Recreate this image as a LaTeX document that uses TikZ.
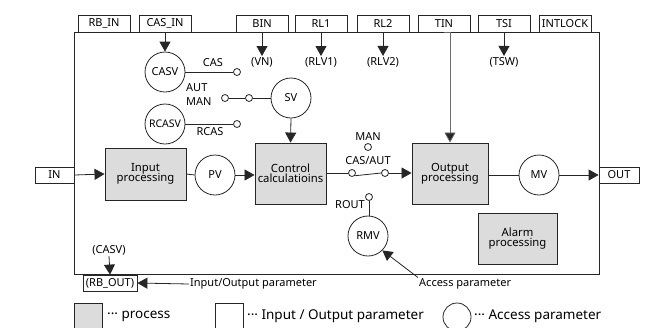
\documentclass[tikz,border=0pt]{standalone}
\usepackage{fontspec}
\setmainfont{Noto Sans}
\usepackage{tikz}
\usetikzlibrary{arrows.meta,positioning,shapes,calc}
\definecolor{ink}{HTML}{262626}
\definecolor{inkgray}{HTML}{6A6A6A}
\definecolor{procgray}{HTML}{DCDCDC}
\tikzset{
  proc/.style={draw=ink,fill=procgray,line width=0.9pt,align=center,
               inner sep=0pt,font=\fontsize{11.3}{12}\selectfont},
  iobox/.style={draw=ink,fill=white,line width=0.8pt,inner sep=0pt,
                minimum width=52pt,minimum height=17pt,
                font=\fontsize{11}{12}\selectfont},
  accpar/.style={circle,draw=ink,fill=white,line width=0.8pt,inner sep=0pt,
                 minimum size=40pt,font=\fontsize{11}{12}\selectfont},
  swpt/.style={circle,draw=ink,fill=white,line width=0.8pt,inner sep=0pt,
               minimum size=7pt},
  lbl/.style={inner sep=1pt,font=\fontsize{11}{12}\selectfont},
  leg/.style={inner sep=0pt,anchor=west,font=\fontsize{13.5}{14}\selectfont},
  wire/.style={line width=0.8pt,draw=ink},
  arr/.style={-{Triangle[length=10pt,width=11pt]},line width=0.8pt,draw=ink},
  grayarr/.style={-{Triangle[length=10pt,width=11pt,fill=ink]},
                  line width=0.8pt,draw=inkgray}
}
\begin{document}
\begin{tikzpicture}[x=1pt,y=-1pt]
    \path[use as bounding box] (0,0) rectangle (658,327);

    % function block frame
    \draw[wire] (74,32) rectangle (599,274);

    % top parameters
    \node[iobox] (rbin) at (104,23.5) {RB\_IN};
    \node[iobox] (casin) at (165,23.5) {CAS\_IN};
    \node[iobox] (bin) at (262,23.5) {BIN};
    \node[iobox] (rlone) at (321,23.5) {RL1};
    \node[iobox] (rltwo) at (383,23.5) {RL2};
    \node[iobox] (tin) at (444,23.5) {TIN};
    \node[iobox] (tsi) at (504,23.5) {TSI};
    \node[iobox] (intlock) at (565,23.5) {INTLOCK};

    \node[lbl] (vn) at (262,62) {(VN)};
    \node[lbl] (rlvone) at (321,62) {(RLV1)};
    \node[lbl] (rlvtwo) at (383,62) {(RLV2)};
    \node[lbl] (tsw) at (504,62) {(TSW)};
    \draw[arr] (bin.south) -- (vn.north);
    \draw[arr] (rlone.south) -- (rlvone.north);
    \draw[arr] (rltwo.south) -- (rlvtwo.north);
    \draw[arr] (tsi.south) -- (tsw.north);

    % setpoint selection
    \node[accpar] (casv) at (165,72) {CASV};
    \node[accpar,font=\fontsize{10.5}{11}\selectfont] (rcasv) at (165,124) {RCASV};
    \node[swpt] (swcas) at (237,72) {};
    \node[swpt] (swrcas) at (237,124) {};
    \node[swpt] (swman) at (225,98) {};
    \node[swpt] (swsv) at (249,98) {};
    \node[accpar] (sv) at (291,98) {SV};
    \node[lbl] (lcas) at (213,63) {CAS};
    \node[lbl,anchor=west] (laut) at (185,88) {AUT};
    \node[lbl,anchor=west] (lman) at (185,102) {MAN};
    \node[lbl] (lrcas) at (210,132) {RCAS};
    \draw[arr] (casin.south) -- (casv.north);
    \draw[wire] (casv.east) -- (swcas.west);
    \draw[wire] (rcasv.east) -- (swrcas.west);
    \draw[wire] (swman.east) -- (swsv.west);
    \draw[wire] (swsv.east) -- (sv.west);

    % main signal path
    \node[iobox,minimum width=39pt,minimum height=16pt] (in) at (54.5,175) {IN};
    \node[proc,minimum width=81pt,minimum height=52pt] (inproc) at (145.5,174)
      {Input\\[-2pt]processing};
    \node[accpar] (pv) at (215,175) {PV};
    \node[proc,minimum width=71pt,minimum height=61pt] (ctrl) at (290.5,173.5)
      {Control\\[-2pt]calculatioins};
    \node[swpt] (swl) at (352,173) {};
    \node[swpt] (swr) at (385,173) {};
    \node[swpt] (swmode) at (368,147) {};
    \node[lbl] (lman2) at (368,137) {MAN};
    \node[lbl] (lcasaut) at (368,161) {CAS/AUT};
    \node[proc,minimum width=76pt,minimum height=61pt] (outproc) at (450,173.5)
      {Output\\[-2pt]processing};
    \node[accpar] (mv) at (539,175) {MV};
    \node[iobox,minimum width=40pt,minimum height=16pt] (out) at (619,175) {OUT};
    \draw[arr] (in.east) -- (inproc.west);
    \draw[wire] (inproc.east) -- (pv.west);
    \draw[arr] (pv.east) -- (ctrl.west |- pv.east);
    \draw[wire] (ctrl.east |- swl.west) -- (swl.west);
    \draw[wire] (swl.south east) -- (swr.west);
    \draw[arr] (swr.east) -- (outproc.west |- swr.east);
    \draw[wire] (outproc.east |- mv.west) -- (mv.west);
    \draw[arr] (mv.east) -- (out.west);
    \draw[arr] (sv.south) -- (ctrl.north);
    \draw[grayarr] (tin.south) -- (outproc.north |- tin.south)
      -- (outproc.north);

    % remote output
    \node[swpt] (swrout) at (369,197) {};
    \node[lbl,anchor=east] (lrout) at (366,205) {ROUT};
    \node[accpar] (rmv) at (368,236) {RMV};
    \draw[wire] (swrout.south) -- (swrout.south |- rmv.north);

    \node[proc,minimum width=79pt,minimum height=51pt] (alarm) at (517.5,238.5)
      {Alarm\\[-2pt]processing};

    % annotations
    \node[lbl] (lcasv) at (109,250) {(CASV)};
    \node[iobox,minimum width=54pt,minimum height=16pt] (rbout) at (110,283)
      {(RB\_OUT)};
    \draw[arr] (lcasv.south) -- (rbout.north);
    \node[lbl,anchor=west] (iotxt) at (189,284) {Input/Output parameter};
    \draw[arr] (iotxt.west) -- (rbout.east);
    \node[lbl,anchor=west] (acctxt) at (418,284) {Access parameter};
    \draw[arr] (acctxt.north west) -- (rmv.-45);

    % legend
    \draw[line width=0.8pt,draw=ink,fill=procgray] (74,303) rectangle (102,332);
    \node[leg] (lgproc) at (107,316) {··· process};
    \draw[line width=0.8pt,draw=ink,fill=white] (215,303) rectangle (243,332);
    \node[leg] (lgio) at (247,316) {··· Input / Output parameter};
    \node[circle,draw=ink,line width=0.8pt,minimum size=28pt,inner sep=0pt]
      (lgcirc) at (457,317) {};
    \node[leg] (lgacc) at (474,316) {··· Access parameter};
  \end{tikzpicture}
\end{document}
